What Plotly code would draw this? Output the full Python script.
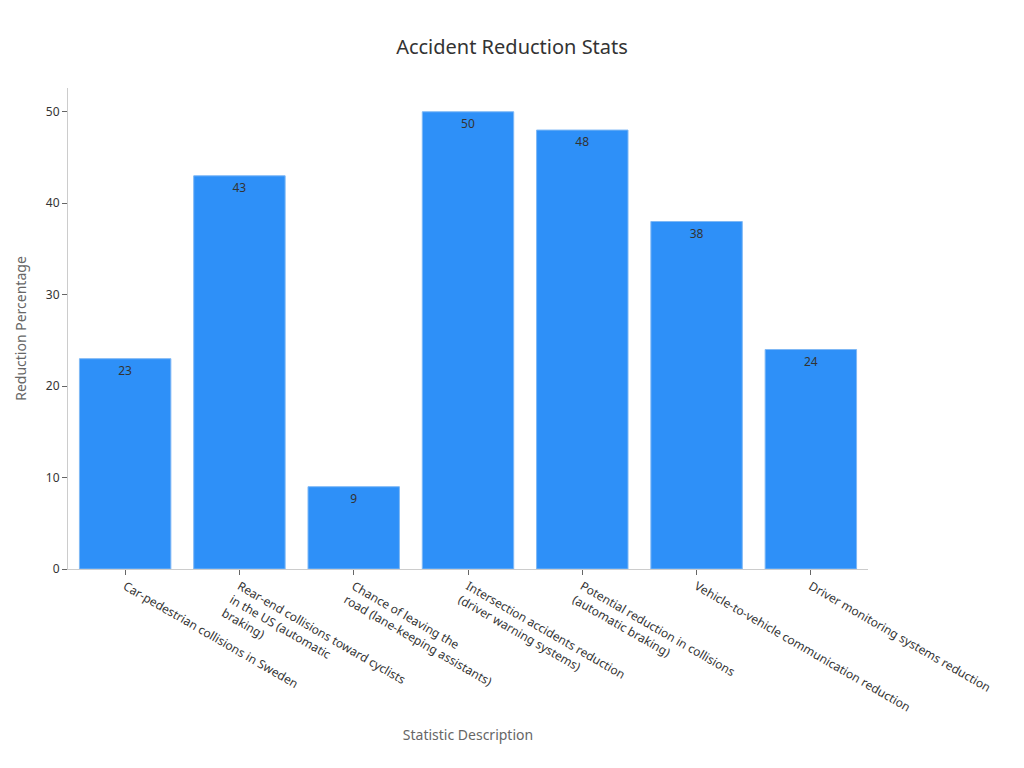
import plotly.graph_objects as go

categories = [
    "Car-pedestrian collisions in Sweden",
    "Rear-end collisions toward cyclists<br>in the US (automatic<br>braking)",
    "Chance of leaving the<br>road (lane-keeping assistants)",
    "Intersection accidents reduction<br>(driver warning systems)",
    "Potential reduction in collisions<br>(automatic braking)",
    "Vehicle-to-vehicle communication reduction",
    "Driver monitoring systems reduction",
]
values = [23, 43, 9, 50, 48, 38, 24]

fig = go.Figure(go.Bar(
    x=categories, y=values,
    text=values, textposition="inside", insidetextanchor="end",
    textfont=dict(color="#333333", size=12),
    marker=dict(color="#2e90f8", line=dict(color="#7fb8f5", width=1)),
    width=0.8,
))

fig.update_layout(
    title=dict(text="Accident Reduction Stats", x=0.5, y=0.957, xanchor="center",
               font=dict(size=20, color="#333333")),
    font=dict(family="Noto Sans", size=12, color="#333333"),
    plot_bgcolor="white", paper_bgcolor="white",
    margin=dict(l=60, r=148, t=80, b=191),
    showlegend=False,
    xaxis=dict(title=dict(text="Statistic Description", font=dict(size=14, color="#666666")),
               tickangle=30, showline=True, linecolor="#cccccc", ticks="outside",
               tickcolor="#666666", showgrid=False),
    yaxis=dict(title=dict(text="Reduction Percentage", font=dict(size=14, color="#666666")),
               range=[0, 52.6], showline=True, linecolor="#cccccc", ticks="outside",
               tickcolor="#666666", showgrid=False, zeroline=False, dtick=10),
)

fig.write_html("out.html")
